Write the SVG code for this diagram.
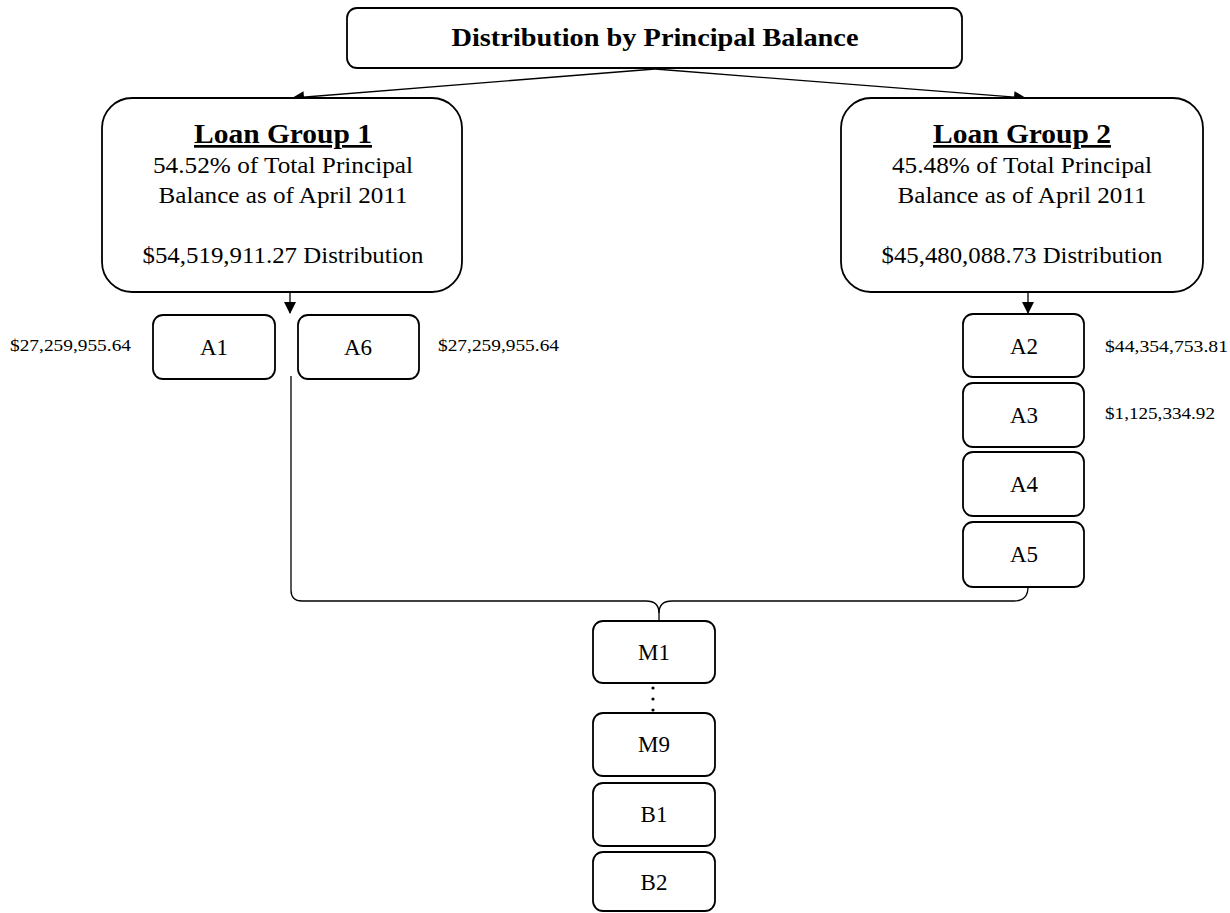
<svg xmlns="http://www.w3.org/2000/svg" width="1230" height="913" viewBox="0 0 1230 913">
<style>
.box{fill:#fff;stroke:#000;stroke-width:1.8}
.t{font-family:"Liberation Serif",serif;fill:#000;text-anchor:middle}
.big{font-size:23px}
.lbl{font-size:23px}
.amt{font-family:"Liberation Serif",serif;font-size:16px;fill:#000}
.hd{font-size:27px;font-weight:bold;text-decoration:underline}
.ttl{font-size:26px;font-weight:bold}
.ln{fill:none;stroke:#000;stroke-width:1.3}
</style>
<defs>
<marker id="arr" markerWidth="12" markerHeight="12" refX="11" refY="6" orient="auto" markerUnits="userSpaceOnUse">
<path d="M0,0 L12,6 L0,12 Z" fill="#000"/>
</marker>
</defs>
<rect width="1230" height="913" fill="#fff"/>
<g id="connectors">
<path class="ln" d="M655,69 L293,98" marker-end="url(#arr)"/>
<path class="ln" d="M655,69 L1025,98" marker-end="url(#arr)"/>
<path class="ln" d="M290,292 L290,313" marker-end="url(#arr)"/>
<path class="ln" d="M1028,292 L1028,313" marker-end="url(#arr)"/>
<path class="ln" d="M291,376 V590 Q291,601 302,601 H646 Q659,601 659,613 V621"/>
<path class="ln" d="M1028,587 Q1028,601 1014,601 H672 Q659,601 659,613"/>
<circle cx="653" cy="688" r="1.6" fill="#000"/>
<circle cx="653" cy="699" r="1.6" fill="#000"/>
<circle cx="653" cy="710" r="1.6" fill="#000"/>
</g>
<g id="title">
<rect class="box" x="347" y="8" width="615" height="60" rx="10"/>
<text class="t ttl" x="655" y="46" textLength="407" lengthAdjust="spacingAndGlyphs">Distribution by Principal Balance</text>
</g>
<g id="lg1">
<rect class="box" x="102" y="98" width="360" height="194" rx="30"/>
<text class="t hd" x="283" y="143" textLength="178" lengthAdjust="spacingAndGlyphs">Loan Group 1</text>
<text class="t big" x="283" y="173" textLength="260" lengthAdjust="spacingAndGlyphs">54.52% of Total Principal</text>
<text class="t big" x="283" y="203" textLength="249" lengthAdjust="spacingAndGlyphs">Balance as of April 2011</text>
<text class="t big" x="283" y="263" textLength="281" lengthAdjust="spacingAndGlyphs">$54,519,911.27 Distribution</text>
</g>
<g id="lg2">
<rect class="box" x="841" y="98" width="362" height="194" rx="30"/>
<text class="t hd" x="1022" y="143" textLength="178" lengthAdjust="spacingAndGlyphs">Loan Group 2</text>
<text class="t big" x="1022" y="173" textLength="260" lengthAdjust="spacingAndGlyphs">45.48% of Total Principal</text>
<text class="t big" x="1022" y="203" textLength="249" lengthAdjust="spacingAndGlyphs">Balance as of April 2011</text>
<text class="t big" x="1022" y="263" textLength="281" lengthAdjust="spacingAndGlyphs">$45,480,088.73 Distribution</text>
</g>
<g id="a1">
<rect class="box" x="153" y="315" width="122" height="64" rx="10"/>
<text class="t lbl" x="214" y="355">A1</text>
<text class="amt" x="10" y="351" textLength="121" lengthAdjust="spacingAndGlyphs">$27,259,955.64</text>
</g>
<g id="a6">
<rect class="box" x="298" y="315" width="121" height="64" rx="10"/>
<text class="t lbl" x="358" y="355">A6</text>
<text class="amt" x="438" y="351" textLength="121" lengthAdjust="spacingAndGlyphs">$27,259,955.64</text>
</g>
<g id="a2">
<rect class="box" x="963" y="314" width="121" height="63" rx="10"/>
<text class="t lbl" x="1024" y="354">A2</text>
<text class="amt" x="1105" y="352" textLength="123" lengthAdjust="spacingAndGlyphs">$44,354,753.81</text>
</g>
<g id="a3">
<rect class="box" x="963" y="383" width="121" height="64" rx="10"/>
<text class="t lbl" x="1024" y="423">A3</text>
<text class="amt" x="1105" y="419" textLength="110" lengthAdjust="spacingAndGlyphs">$1,125,334.92</text>
</g>
<g id="a4">
<rect class="box" x="963" y="452" width="121" height="64" rx="10"/>
<text class="t lbl" x="1024" y="492">A4</text>
</g>
<g id="a5">
<rect class="box" x="963" y="522" width="121" height="65" rx="10"/>
<text class="t lbl" x="1024" y="562">A5</text>
</g>
<g id="m1">
<rect class="box" x="593" y="621" width="122" height="62" rx="10"/>
<text class="t lbl" x="654" y="660">M1</text>
</g>
<g id="m9">
<rect class="box" x="593" y="713" width="122" height="63" rx="10"/>
<text class="t lbl" x="654" y="752">M9</text>
</g>
<g id="b1">
<rect class="box" x="593" y="783" width="122" height="63" rx="10"/>
<text class="t lbl" x="654" y="822">B1</text>
</g>
<g id="b2">
<rect class="box" x="593" y="852" width="122" height="59" rx="10"/>
<text class="t lbl" x="654" y="890">B2</text>
</g>
</svg>
